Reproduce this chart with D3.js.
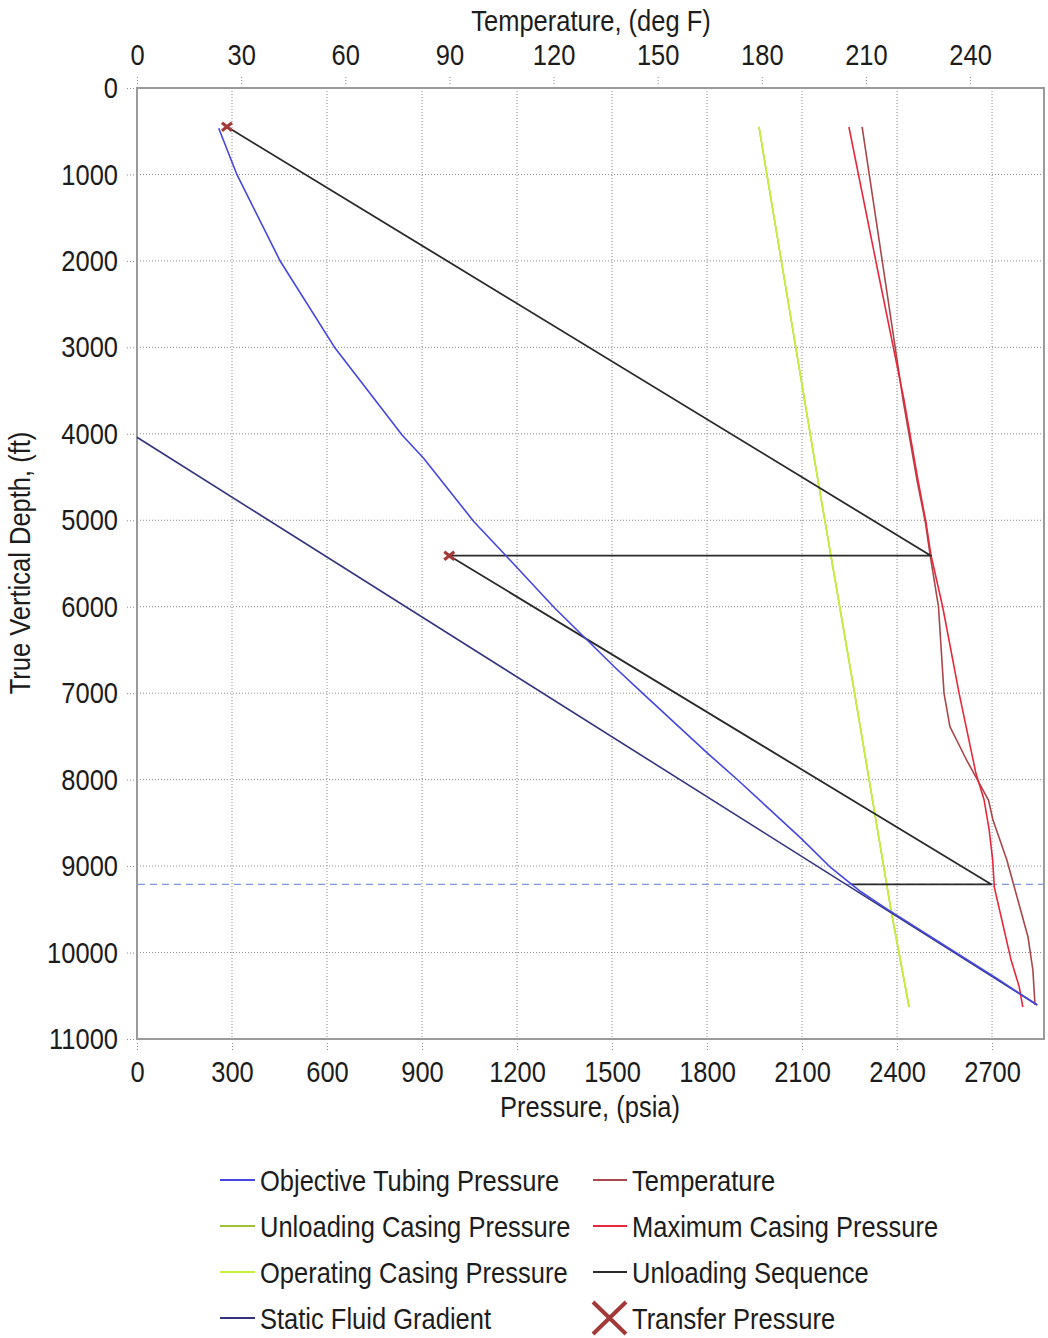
<!DOCTYPE html>
<html>
<head>
<meta charset="utf-8">
<script src="https://cdnjs.cloudflare.com/ajax/libs/d3/7.8.5/d3.min.js"></script>
<style>
  body { margin: 0; background: #fff; }
  svg text { font-family: "Liberation Sans", Arial, sans-serif; fill: #1c1c1c; }
  .grid line { stroke: #8c8c8c; stroke-dasharray: 1,2; }
  .axis .tick line { stroke: #8c8c8c; stroke-dasharray: 1,2; }
  .axis path.domain { display: none; }
</style>
</head>
<body>
<svg width="1048" height="1338"></svg>
<script>

/* chart data (depth in ft, pressure in psia, temperature in deg F) */

const pressureTicks = [0, 300, 600, 900, 1200, 1500, 1800, 2100, 2400, 2700];
const tempTicks = [0, 30, 60, 90, 120, 150, 180, 210, 240];
const depthTicks = [0, 1000, 2000, 3000, 4000, 5000, 6000, 7000, 8000, 9000, 10000, 11000];

const tubingDepth = [466, 1006, 2001, 3011, 4014, 4283, 5017, 5402, 6012, 6694, 7002, 7696, 8004, 8679, 9019, 9297, 9489, 10000, 10300, 10607];
const tubingPsi   = [258, 316, 452, 626, 837, 905, 1064, 1163, 1318, 1507, 1597, 1802, 1897, 2097, 2191, 2286, 2365, 2585, 2715, 2842];

const staticDepth = [4040, 10607];
const staticPsi   = [0, 2843];

const casingDepth  = [451, 4534, 7002, 9489, 10630];
const unloadingPsi = [1964, 2150, 2266, 2380, 2438];
const operatingPsi = [1964, 2150, 2266, 2380, 2438];

const tempDepth = [451, 2001, 3609, 4534, 5017, 5402, 6000, 7002, 7388, 7773, 8236, 8467, 8930, 9821, 10202, 10607];
const tempF     = [208.9, 214.7, 220.7, 224.7, 227.1, 228.5, 230.9, 232.5, 234.2, 239.0, 245.3, 246.6, 250.6, 256.7, 258.1, 258.7];

const maxDepth = [451, 2001, 3609, 4534, 5017, 5402, 6000, 7002, 7927, 8236, 8583, 8930, 9242, 10087, 10399, 10630];
const maxPsi   = [2248, 2333, 2422, 2466, 2491, 2507, 2544, 2596, 2649, 2675, 2691, 2702, 2707, 2760, 2786, 2797];

const seqDepth = [448, 5410, 5410, 9211, 9211];
const seqPsi   = [284, 2507, 986, 2697, 2255];

const transferDepth = [448, 5410];
const transferPsi   = [284, 986];

const valveDepth = 9211;

const legendCol1 = ["Objective Tubing Pressure", "Unloading Casing Pressure", "Operating Casing Pressure", "Static Fluid Gradient"];
const legendCol2 = ["Temperature", "Maximum Casing Pressure", "Unloading Sequence", "Transfer Pressure"];

const colors = {
  tubing: "#4646e0",
  unloading: "#9fc23a",
  operating: "#c8f03c",
  static: "#34347e",
  temp: "#a8474c",
  max: "#e8283c",
  seq: "#2a2a2a",
  transfer: "#a33a3a"
};

/* layout */

const plotL = 137, plotR = 1044, plotT = 88, plotB = 1039;
const squeeze = 0.85;   // the original font is a condensed one

var svg = d3.select("svg");

let x = d3.scaleLinear().domain([0, 2864]).range([plotL, plotR]);
let xt = d3.scaleLinear().domain([0, 261.3]).range([plotL, plotR]);
let y = d3.scaleLinear().domain([0, 11000]).range([plotT, plotB]);

// squeeze text horizontally so it looks like the narrow font
function narrow(sel) {
  sel.each(function () {
    let w = this.getComputedTextLength();
    d3.select(this)
      .attr("textLength", w * squeeze)
      .attr("lengthAdjust", "spacingAndGlyphs");
  });
}

svg.append("rect")
  .attr("width", 1048).attr("height", 1338).attr("fill", "#fff");

// grid
let grid = svg.append("g").attr("class", "grid");
grid.selectAll(".gv")
  .data(pressureTicks.filter(d => d > 0))
  .enter().append("line")
  .attr("x1", d => x(d)).attr("x2", d => x(d))
  .attr("y1", plotT).attr("y2", plotB);
grid.selectAll(".gh")
  .data(depthTicks.filter(d => d > 0 && d < 11000))
  .enter().append("line")
  .attr("y1", d => y(d)).attr("y2", d => y(d))
  .attr("x1", plotL).attr("x2", plotR);

// axes
svg.append("g")
  .attr("class", "axis")
  .attr("transform", "translate(0," + (plotB + 4) + ")")
  .call(d3.axisBottom(x).tickValues(pressureTicks).tickSize(8).tickPadding(10).tickFormat(d3.format("d")))
  .selectAll("text").style("font-size", "30px").call(narrow);

svg.append("g")
  .attr("class", "axis")
  .attr("transform", "translate(0," + (plotT - 4) + ")")
  .call(d3.axisTop(xt).tickValues(tempTicks).tickSize(8).tickPadding(11).tickFormat(d3.format("d")))
  .selectAll("text").style("font-size", "30px").call(narrow);

svg.append("g")
  .attr("class", "axis")
  .attr("transform", "translate(" + (plotL - 3) + ",0)")
  .call(d3.axisLeft(y).tickValues(depthTicks).tickSize(8).tickPadding(8).tickFormat(d3.format("d")))
  .selectAll("text").style("font-size", "30px").call(narrow);

// axis titles
svg.append("text")
  .text("Pressure, (psia)")
  .attr("x", 590).attr("y", 1117)
  .attr("text-anchor", "middle")
  .style("font-size", "30px")
  .call(narrow);

svg.append("text")
  .text("Temperature, (deg F)")
  .attr("x", 591).attr("y", 31)
  .attr("text-anchor", "middle")
  .style("font-size", "30px")
  .call(narrow);

svg.append("text")
  .text("True Vertical Depth, (ft)")
  .attr("transform", "translate(30,563) rotate(-90)")
  .attr("text-anchor", "middle")
  .style("font-size", "30px")
  .call(narrow);

// plot border
svg.append("rect")
  .attr("x", plotL).attr("y", plotT)
  .attr("width", plotR - plotL).attr("height", plotB - plotT)
  .attr("fill", "none")
  .attr("stroke", "#9a9a9a")
  .attr("stroke-width", 2);

// valve depth (dashed)
svg.append("line")
  .attr("x1", plotL + 1).attr("x2", plotR - 1)
  .attr("y1", y(valveDepth)).attr("y2", y(valveDepth))
  .attr("stroke", "#8596dc")
  .attr("stroke-width", 1.2)
  .attr("stroke-dasharray", "7,5");

function pressureLine(depths, vals, color, w) {
  let pts = depths.map((d, i) => [x(vals[i]), y(d)]);
  svg.append("path")
    .attr("d", d3.line()(pts))
    .attr("fill", "none")
    .attr("stroke", color)
    .attr("stroke-width", w || 1.6)
    .attr("stroke-linejoin", "round");
}

function tempLine(depths, vals, color) {
  let pts = depths.map((d, i) => [xt(vals[i]), y(d)]);
  svg.append("path")
    .attr("d", d3.line()(pts))
    .attr("fill", "none")
    .attr("stroke", color)
    .attr("stroke-width", 1.6)
    .attr("stroke-linejoin", "round");
}

pressureLine(casingDepth, unloadingPsi, colors.unloading);
pressureLine(casingDepth, operatingPsi, colors.operating);
pressureLine(staticDepth, staticPsi, colors.static);
tempLine(tempDepth, tempF, colors.temp);
pressureLine(maxDepth, maxPsi, colors.max);
pressureLine(seqDepth, seqPsi, colors.seq, 1.8);
pressureLine(tubingDepth, tubingPsi, colors.tubing);

// transfer markers
svg.append("g")
  .selectAll("path")
  .data(transferDepth.map((d, i) => [x(transferPsi[i]), y(d)]))
  .enter().append("path")
  .attr("d", p => "M" + (p[0] - 5) + "," + (p[1] - 4) + "L" + (p[0] + 5) + "," + (p[1] + 4) +
                  "M" + (p[0] - 5) + "," + (p[1] + 4) + "L" + (p[0] + 5) + "," + (p[1] - 4))
  .attr("stroke", colors.transfer)
  .attr("stroke-width", 3);

/* legend */

const legColors1 = [colors.tubing, colors.unloading, colors.operating, colors.static];
const legColors2 = [colors.temp, colors.max, colors.seq, null];

let leg = svg.append("g");

legendCol1.forEach((name, i) => {
  let cy = 1180 + i * 46;
  leg.append("line")
    .attr("x1", 220).attr("x2", 255).attr("y1", cy).attr("y2", cy)
    .attr("stroke", legColors1[i]).attr("stroke-width", 2);
  leg.append("text")
    .text(name)
    .attr("x", 260).attr("y", cy + 11)
    .style("font-size", "30px")
    .call(narrow);
});

legendCol2.forEach((name, i) => {
  let cy = 1180 + i * 46;
  if (legColors2[i]) {
    leg.append("line")
      .attr("x1", 593).attr("x2", 627).attr("y1", cy).attr("y2", cy)
      .attr("stroke", legColors2[i]).attr("stroke-width", 2);
  } else {
    leg.append("path")
      .attr("d", "M593," + (cy - 16) + "L626," + (cy + 16) + "M593," + (cy + 16) + "L626," + (cy - 16))
      .attr("stroke", colors.transfer)
      .attr("stroke-width", 4);
  }
  leg.append("text")
    .text(name)
    .attr("x", 632).attr("y", cy + 11)
    .style("font-size", "30px")
    .call(narrow);
});

</script>
</body>
</html>
